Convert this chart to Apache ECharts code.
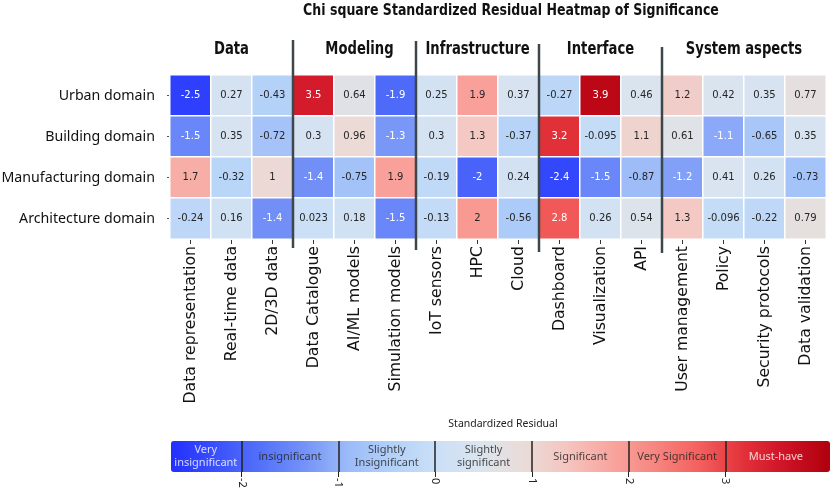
<!DOCTYPE html>
<html>
<head>
<meta charset="utf-8">
<script src="https://cdn.jsdelivr.net/npm/echarts@6/dist/echarts.min.js"></script>
<style>
  html, body { margin: 0; padding: 0; background: #fff; }
  #chart { width: 830px; height: 492px; }
</style>
</head>
<body>
<div id="chart"></div>
<script>
const rowNames = ["Urban domain", "Building domain", "Manufacturing domain", "Architecture domain"];
const colNames = [
  "Data representation", "Real-time data", "2D/3D data",
  "Data Catalogue", "AI/ML models", "Simulation models",
  "IoT sensors", "HPC", "Cloud",
  "Dashboard", "Visualization", "API",
  "User management", "Policy", "Security protocols", "Data validation"
];
const groupNames = ["Data", "Modeling", "Infrastructure", "Interface", "System aspects"];
const groupSizes = [3, 3, 3, 3, 4];

const urban = [-2.5, 0.27, -0.43, 3.5, 0.64, -1.9, 0.25, 1.9, 0.37, -0.27, 3.9, 0.46, 1.2, 0.42, 0.35, 0.77];
const building = [-1.5, 0.35, -0.72, 0.3, 0.96, -1.3, 0.3, 1.3, -0.37, 3.2, -0.095, 1.1, 0.61, -1.1, -0.65, 0.35];
const manufacturing = [1.7, -0.32, 1, -1.4, -0.75, 1.9, -0.19, -2, 0.24, -2.4, -1.5, -0.87, -1.2, 0.41, 0.26, -0.73];
const architecture = [-0.24, 0.16, -1.4, 0.023, 0.18, -1.5, -0.13, 2, -0.56, 2.8, 0.26, 0.54, 1.3, -0.096, -0.22, 0.79];

// colour scale
const scaleMin = -2.73;
const scaleMax = 4.08;
const scaleTicks = [-2, -1, 0, 1, 2, 3];
const bandNames = ["Very\ninsignificant", "insignificant", "Slightly\nInsignificant", "Slightly\nsignificant",
  "Significant", "Very Significant", "Must-have"];
const bandCenters = [-2.37, -1.5, -0.5, 0.5, 1.5, 2.5, 3.52];
const bandTextColors = ["#fff", "#222", "#222", "#222", "#222", "#222", "#fff"];

const rampColors = ["#2230ff", "#3a4ffb", "#5270f9", "#7391f7", "#9bbaf8", "#b2d0f8", "#cadff7",
  "#dae4ef", "#e9ddd9", "#f5c5c0", "#f8a69f", "#f78680", "#f4615f", "#e3323a", "#cd1226", "#b0000c"];

const narrow = "'DejaVu Sans Condensed', 'DejaVu Sans', sans-serif";

const rows = [urban, building, manufacturing, architecture];
const cells = [];
rows.forEach((vals, r) => {
  vals.forEach((v, c) => {
    cells.push({
      value: [c, r, v],
      label: { color: (v <= -1.1 || v >= 2.8) ? "#fff" : "#262626" }
    });
  });
});

const chart = echarts.init(document.getElementById("chart"));

const option = {
  animation: false,
  grid: [
    { left: 170, top: 75, width: 656, height: 164, outerBoundsMode: "none" },
    { left: 171, top: 441, width: 659, height: 31, outerBoundsMode: "none" }
  ],
  xAxis: [
    {
      type: "category",
      data: colNames,
      gridIndex: 0,
      axisLine: { show: false },
      axisTick: { show: true, length: 5, alignWithLabel: true, lineStyle: { color: "#333" } },
      axisLabel: {
        interval: 0,
        rotate: 90,
        margin: 7,
        fontFamily: "DejaVu Sans",
        fontSize: 15.7,
        color: "#111"
      },
      splitLine: { show: false }
    },
    {
      type: "value",
      gridIndex: 1,
      min: scaleMin,
      max: scaleMax,
      axisLine: { show: false },
      axisTick: { show: true, length: 5, customValues: scaleTicks, lineStyle: { color: "#222" } },
      axisLabel: {
        customValues: scaleTicks,
        rotate: -90,
        margin: 6,
        fontFamily: "Noto Sans",
        fontSize: 11,
        color: "#222"
      },
      splitLine: { show: false }
    }
  ],
  yAxis: [
    {
      type: "category",
      data: rowNames,
      inverse: true,
      gridIndex: 0,
      axisLine: { show: false },
      axisTick: { show: true, length: 3, alignWithLabel: true, lineStyle: { color: "#555" } },
      axisLabel: { margin: 15, fontFamily: "Noto Sans", fontSize: 14.2, color: "#111" }
    },
    {
      type: "value",
      gridIndex: 1,
      min: 0,
      max: 1,
      show: false
    }
  ],
  visualMap: {
    type: "continuous",
    seriesIndex: 0,
    min: scaleMin,
    max: scaleMax,
    orient: "horizontal",
    left: 171,
    top: 441,
    padding: 0,
    itemWidth: 31,
    itemHeight: 659,
    calculable: false,
    hoverLink: false,
    text: null,
    inRange: { color: rampColors }
  },
  series: [
    {
      type: "heatmap",
      xAxisIndex: 0,
      yAxisIndex: 0,
      data: cells,
      itemStyle: { borderColor: "#fff", borderWidth: 1.5 },
      label: {
        show: true,
        fontFamily: "DejaVu Sans",
        fontSize: 10,
        formatter: (p) => String(p.value[2])
      }
    },
    {
      type: "scatter",
      xAxisIndex: 1,
      yAxisIndex: 1,
      z: 10,
      symbolSize: 0,
      data: bandCenters.map((x, i) => ({
        value: [x, 0.5],
        name: bandNames[i],
        label: { color: bandTextColors[i] }
      })),
      label: {
        show: true,
        position: "inside",
        formatter: (p) => p.name,
        fontFamily: "Noto Sans",
        fontSize: 11,
        lineHeight: 13,
        align: "center"
      },
      markLine: {
        silent: true,
        symbol: "none",
        label: { show: false },
        lineStyle: { color: "#222", width: 1.5, type: "solid" },
        data: scaleTicks.map((t) => ({ xAxis: t }))
      }
    }
  ]
};

chart.setOption(option);

// title, group separators and headers, placed from the category axis
const px = (i) => chart.convertToPixel({ xAxisIndex: 0 }, i);
const lineTops = [40, 41, 44, 47];
const lineBottoms = [248, 250, 252, 253];
const graphics = [{
  type: "text",
  x: 511,
  y: 11,
  scaleX: 0.93,
  style: {
    text: "Chi square Standardized Residual Heatmap of Significance",
    fontFamily: narrow,
    fontSize: 15,
    fontWeight: "bold",
    fill: "#111",
    align: "center",
    verticalAlign: "middle"
  }
}];
let start = 0;
groupNames.forEach((g, gi) => {
  const end = start + groupSizes[gi] - 1;
  const cx = (px(start) + px(end)) / 2;
  graphics.push({
    type: "text",
    x: cx + (gi === 1 ? 5 : 0),
    y: 50,
    scaleX: 0.86,
    style: {
      text: g,
      fontFamily: narrow,
      fontSize: 17,
      fontWeight: "bold",
      fill: "#111",
      align: "center",
      verticalAlign: "middle"
    }
  });
  if (gi < groupNames.length - 1) {
    const bx = (px(end) + px(end + 1)) / 2;
    graphics.push({
      type: "line",
      z: 20,
      shape: { x1: bx, y1: lineTops[gi], x2: bx, y2: lineBottoms[gi] },
      style: { stroke: "#3d4649", lineWidth: 2.5 }
    });
  }
  start = end + 1;
});
graphics.push({
  type: "text",
  x: 503,
  y: 424,
  style: {
    text: "Standardized Residual",
    fontFamily: "Noto Sans",
    fontSize: 10.5,
    fill: "#222",
    align: "center",
    verticalAlign: "middle"
  }
});
chart.setOption({ graphic: graphics });
</script>
</body>
</html>
